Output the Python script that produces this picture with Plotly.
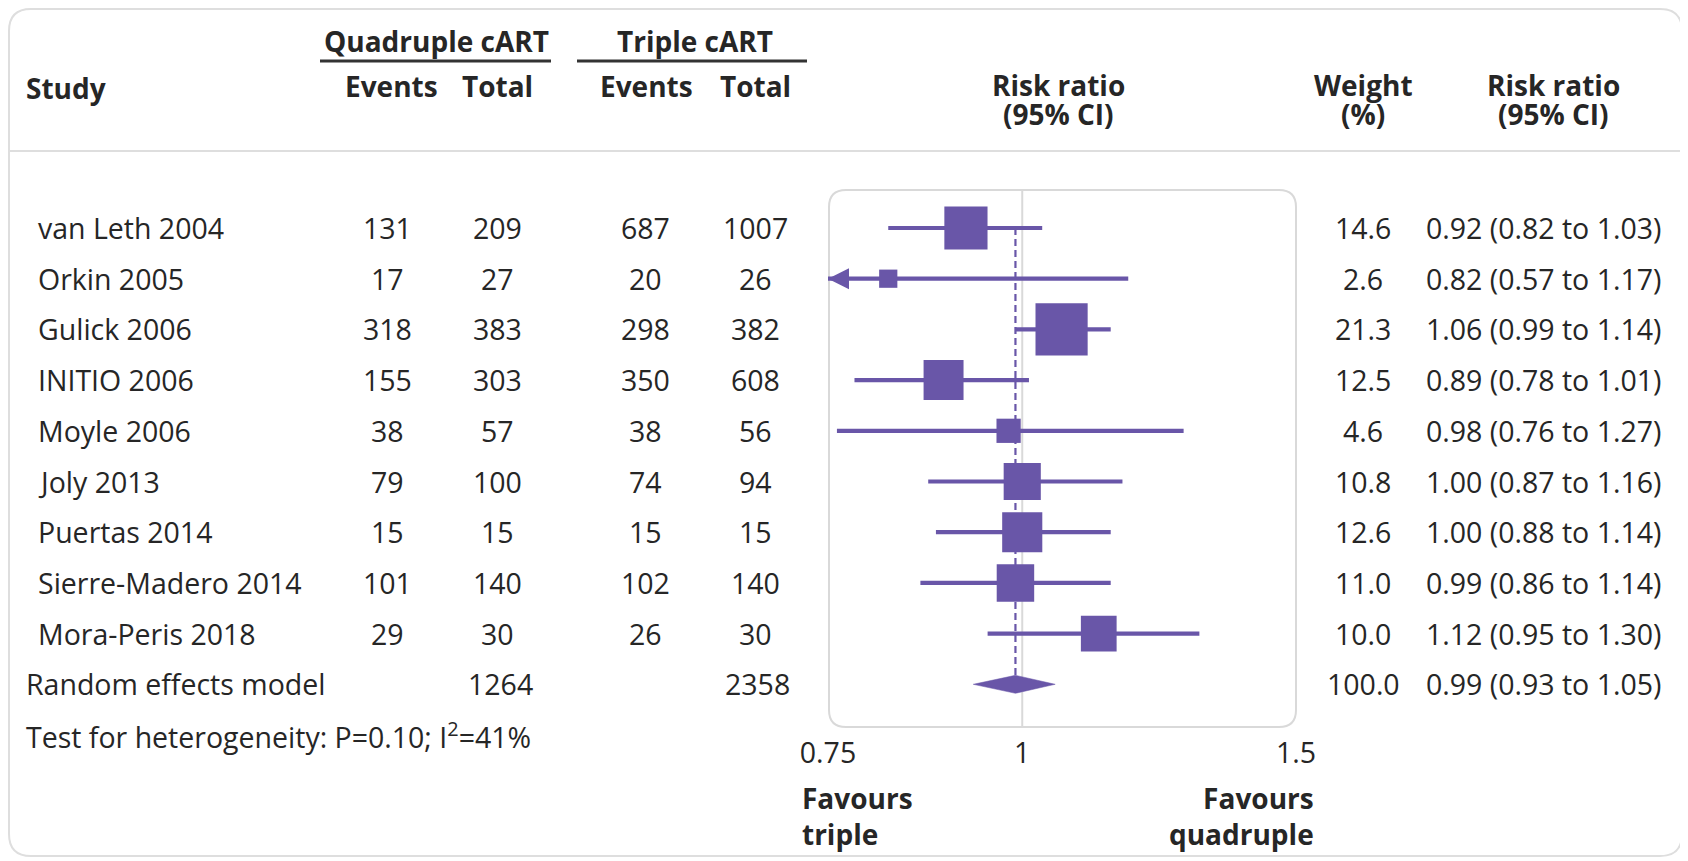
import math
import plotly.graph_objects as go

# ---------------- data ----------------
studies = ["van Leth 2004", "Orkin 2005", "Gulick 2006", "INITIO 2006", "Moyle 2006",
           "Joly 2013", "Puertas 2014", "Sierre-Madero 2014", "Mora-Peris 2018"]
quad_events = [131, 17, 318, 155, 38, 79, 15, 101, 29]
quad_total = [209, 27, 383, 303, 57, 100, 15, 140, 30]
triple_events = [687, 20, 298, 350, 38, 74, 15, 102, 26]
triple_total = [1007, 26, 382, 608, 56, 94, 15, 140, 30]
weights = [14.6, 2.6, 21.3, 12.5, 4.6, 10.8, 12.6, 11.0, 10.0]
rr = [0.92, 0.82, 1.06, 0.89, 0.98, 1.00, 1.00, 0.99, 1.12]
rr_lo = [0.82, 0.57, 0.99, 0.78, 0.76, 0.87, 0.88, 0.86, 0.95]
rr_hi = [1.03, 1.17, 1.14, 1.01, 1.27, 1.16, 1.14, 1.14, 1.30]

pooled_label = "Random effects model"
pooled_quad_total = 1264
pooled_triple_total = 2358
pooled_weight = 100.0
pooled_rr = 0.99
pooled_lo = 0.93
pooled_hi = 1.05
heterogeneity = "Test for heterogeneity: P=0.10; I<sup>2</sup>=41%"

x_range = [0.75, 1.5]
x_ticks = [0.75, 1, 1.5]
x_tick_labels = ["0.75", "1", "1.5"]

# ---------------- layout helpers ----------------
W, H = 1688, 861
OFF = 8                          # default page margin of the html body
ROW0, ROWH = 228, 50.7           # page-pixel y of first row, row spacing
PURPLE = "#6956a8"
TXT = "#262626"
GRID = "#d9d9d9"
FONT = "Open Sans"
FS = 28.5
HB = 28


def px(x):
    return (x - OFF) / W


def py(y):
    return 1 - (y - OFF) / H


def prow(y):
    """page pixel y -> row units"""
    return (y - ROW0) / ROWH


def rrect(x0, y0, x1, y1, r):
    return (f"M {px(x0 + r)},{py(y0)} L {px(x1 - r)},{py(y0)} "
            f"Q {px(x1)},{py(y0)} {px(x1)},{py(y0 + r)} L {px(x1)},{py(y1 - r)} "
            f"Q {px(x1)},{py(y1)} {px(x1 - r)},{py(y1)} L {px(x0 + r)},{py(y1)} "
            f"Q {px(x0)},{py(y1)} {px(x0)},{py(y1 - r)} L {px(x0)},{py(y0 + r)} "
            f"Q {px(x0)},{py(y0)} {px(x0 + r)},{py(y0)} Z")


n = len(studies)
rows = list(range(n))
pooled_row = n
het_row = n + 1

fig = go.Figure()

# reference line at 1
box_top, box_bot = 190, 727
fig.add_trace(go.Scatter(x=[1, 1], y=[prow(box_top), prow(box_bot)], mode="lines",
                         line=dict(color=GRID, width=2), hoverinfo="skip", showlegend=False))

# dashed line at pooled estimate
diamond_h = 9 / ROWH
fig.add_trace(go.Scatter(x=[pooled_rr, pooled_rr], y=[0, pooled_row - diamond_h], mode="lines",
                         line=dict(color=PURPLE, width=2.2, dash="7px,4px"),
                         hoverinfo="skip", showlegend=False))

# confidence intervals (clipped to the axis range)
cx, cy = [], []
for i in rows:
    cx += [max(rr_lo[i], x_range[0]), min(rr_hi[i], x_range[1]), None]
    cy += [i, i, None]
fig.add_trace(go.Scatter(x=cx, y=cy, mode="lines",
                         line=dict(color=PURPLE, width=4.2), hoverinfo="skip", showlegend=False))

# arrow heads where a CI runs past the axis
arrow_rows = [i for i in rows if rr_lo[i] < x_range[0]]
fig.add_trace(go.Scatter(x=[x_range[0]] * len(arrow_rows), y=arrow_rows, mode="markers",
                         marker=dict(symbol="arrow-left", color=PURPLE, size=21, opacity=1,
                                     line=dict(width=0)),
                         hoverinfo="skip", showlegend=False, cliponaxis=False))

# squares sized by weight (area proportional)
fig.add_trace(go.Scatter(x=rr, y=rows, mode="markers",
                         marker=dict(symbol="square", color=PURPLE, opacity=1,
                                     size=[11.3 * math.sqrt(w) for w in weights],
                                     line=dict(width=0)),
                         hoverinfo="skip", showlegend=False, cliponaxis=False))

# pooled diamond
fig.add_trace(go.Scatter(x=[pooled_lo, pooled_rr, pooled_hi, pooled_rr, pooled_lo],
                         y=[pooled_row, pooled_row - diamond_h, pooled_row,
                            pooled_row + diamond_h, pooled_row],
                         mode="lines", fill="toself", fillcolor=PURPLE,
                         line=dict(color=PURPLE, width=0.5), hoverinfo="skip", showlegend=False))

ann = []


def txt(text, x, y, anchor="center", bold=False, size=FS):
    ann.append(dict(text=f"<b>{text}</b>" if bold else text, x=px(x), y=y,
                    xref="paper", yref="y", xanchor=anchor, yanchor="middle",
                    showarrow=False, font=dict(family=FONT, size=size, color=TXT)))


# header
txt("Quadruple cART", 436, prow(41), bold=True, size=HB)
txt("Triple cART", 695, prow(41), bold=True, size=HB)
txt("Study", 24, prow(88), anchor="left", bold=True, size=HB)
txt("Events", 391, prow(86), bold=True, size=HB)
txt("Total", 497, prow(86), bold=True, size=HB)
txt("Events", 646, prow(86), bold=True, size=HB)
txt("Total", 755, prow(86), bold=True, size=HB)
txt("Risk ratio", 1058, prow(85), bold=True, size=HB)
txt("(95% CI)", 1058, prow(114), bold=True, size=HB)
txt("Weight", 1363, prow(85), bold=True, size=HB)
txt("(%)", 1363, prow(114), bold=True, size=HB)
txt("Risk ratio", 1553, prow(85), bold=True, size=HB)
txt("(95% CI)", 1553, prow(114), bold=True, size=HB)

# rows
for i in rows:
    txt(studies[i], 36, i, anchor="left")
    txt(str(quad_events[i]), 387, i)
    txt(str(quad_total[i]), 497, i)
    txt(str(triple_events[i]), 645, i)
    txt(str(triple_total[i]), 755, i)
    txt(f"{weights[i]:.1f}", 1363, i)
    txt(f"{rr[i]:.2f} ({rr_lo[i]:.2f} to {rr_hi[i]:.2f})", 1424, i, anchor="left")

txt(pooled_label, 24, pooled_row, anchor="left")
txt(str(pooled_quad_total), 500, pooled_row)
txt(str(pooled_triple_total), 757, pooled_row)
txt(f"{pooled_weight:.1f}", 1363, pooled_row)
txt(f"{pooled_rr:.2f} ({pooled_lo:.2f} to {pooled_hi:.2f})", 1424, pooled_row, anchor="left")
txt(heterogeneity, 24, het_row, anchor="left")

# favours labels
ann.append(dict(text="<b>Favours<br>triple</b>", x=px(800), y=prow(816), xref="paper", yref="y",
                xanchor="left", yanchor="middle", align="left", showarrow=False,
                font=dict(family=FONT, size=HB, color=TXT)))
ann.append(dict(text="<b>Favours<br>quadruple</b>", x=px(1316), y=prow(816), xref="paper", yref="y",
                xanchor="right", yanchor="middle", align="right", showarrow=False,
                font=dict(family=FONT, size=HB, color=TXT)))

shapes = [
    # outer frame
    dict(type="path", path=rrect(9, 9, 1682, 856, 22), xref="paper", yref="paper",
         line=dict(color="#dedede", width=2), layer="below"),
    # header separator
    dict(type="line", x0=px(9), x1=px(1682), y0=py(151), y1=py(151), xref="paper", yref="paper",
         line=dict(color="#dedede", width=2)),
    # header underlines
    dict(type="line", x0=px(320), x1=px(551), y0=py(61), y1=py(61), xref="paper", yref="paper",
         line=dict(color="#333333", width=3)),
    dict(type="line", x0=px(577), x1=px(807), y0=py(61), y1=py(61), xref="paper", yref="paper",
         line=dict(color="#333333", width=3)),
    # plot box
    dict(type="path", path=rrect(829, box_top, 1296, box_bot, 17), xref="paper", yref="paper",
         line=dict(color=GRID, width=2), layer="below"),
]

fig.update_layout(
    width=W, height=H, autosize=False,
    margin=dict(l=0, r=0, t=0, b=0, pad=0, autoexpand=False),
    paper_bgcolor="white", plot_bgcolor="rgba(0,0,0,0)",
    showlegend=False,
    annotations=ann, shapes=shapes,
    xaxis=dict(type="log", range=[math.log10(x_range[0]), math.log10(x_range[1])],
               domain=[px(828), px(1296)], anchor="free", position=py(733),
               tickvals=x_ticks, ticktext=x_tick_labels, ticks="", showgrid=False,
               zeroline=False, showline=False, automargin=False,
               tickfont=dict(family=FONT, size=FS, color=TXT)),
    yaxis=dict(range=[prow(H + OFF), prow(OFF)], domain=[0, 1], visible=False,
               automargin=False),
    font=dict(family=FONT, color=TXT),
)

fig.write_html("out.html")
